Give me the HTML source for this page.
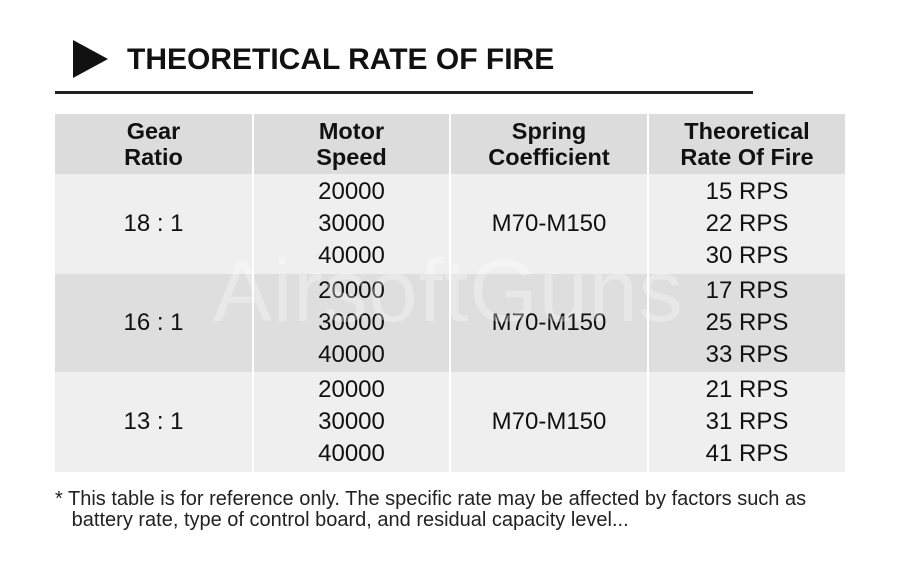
<!DOCTYPE html>
<html><head><style>
body{margin:0;width:908px;height:564px;background:#fff;font-family:"Liberation Sans",Arial,sans-serif;position:relative;overflow:hidden;color:#111}
.tri{position:absolute;left:73px;top:40px;width:0;height:0;border-top:19px solid transparent;border-bottom:19px solid transparent;border-left:35px solid #111}
.title{position:absolute;left:127px;top:43px;font-size:30px;font-weight:bold;line-height:34px}
.rule{position:absolute;left:55px;top:91px;width:698px;height:3px;background:#222}
.c{position:absolute;display:flex;align-items:center;justify-content:center;text-align:center;font-size:24px}
.h{background:#dcdcdc;font-weight:bold;line-height:26px;top:114px;height:60px;font-size:23.5px}
.l{background:#efefef}.d{background:#dedede}
.stack{line-height:32px}
.note{position:absolute;left:55px;top:489px;font-size:20px;line-height:21px;color:#222}
.wm{position:absolute;left:213px;top:240px;font-size:88px;color:rgba(255,255,255,0.3);letter-spacing:1px}
</style></head><body>
<div class="tri"></div>
<div class="title">THEORETICAL RATE OF FIRE</div>
<div class="rule"></div>

<div class="c h" style="left:55px;width:197px">Gear<br>Ratio</div>
<div class="c h" style="left:254px;width:195px">Motor<br>Speed</div>
<div class="c h" style="left:451px;width:196px">Spring<br>Coefficient</div>
<div class="c h" style="left:649px;width:196px">Theoretical<br>Rate Of Fire</div>

<div class="c l" style="left:55px;width:197px;top:174px;height:100px">18 : 1</div>
<div class="c l stack" style="left:254px;width:195px;top:174px;height:100px">20000<br>30000<br>40000</div>
<div class="c l" style="left:451px;width:196px;top:174px;height:100px">M70-M150</div>
<div class="c l stack" style="left:649px;width:196px;top:174px;height:100px">15 RPS<br>22 RPS<br>30 RPS</div>

<div class="c d" style="left:55px;width:197px;top:274px;height:98px">16 : 1</div>
<div class="c d stack" style="left:254px;width:195px;top:274px;height:98px">20000<br>30000<br>40000</div>
<div class="c d" style="left:451px;width:196px;top:274px;height:98px">M70-M150</div>
<div class="c d stack" style="left:649px;width:196px;top:274px;height:98px">17 RPS<br>25 RPS<br>33 RPS</div>

<div class="c l" style="left:55px;width:197px;top:372px;height:100px">13 : 1</div>
<div class="c l stack" style="left:254px;width:195px;top:372px;height:100px">20000<br>30000<br>40000</div>
<div class="c l" style="left:451px;width:196px;top:372px;height:100px">M70-M150</div>
<div class="c l stack" style="left:649px;width:196px;top:372px;height:100px">21 RPS<br>31 RPS<br>41 RPS</div>

<div class="wm">AirsoftGuns</div>
<div class="note">* This table is for reference only. The specific rate may be affected by factors such as<br>&nbsp;&nbsp;&nbsp;battery rate, type of control board, and residual capacity level...</div>
</body></html>
